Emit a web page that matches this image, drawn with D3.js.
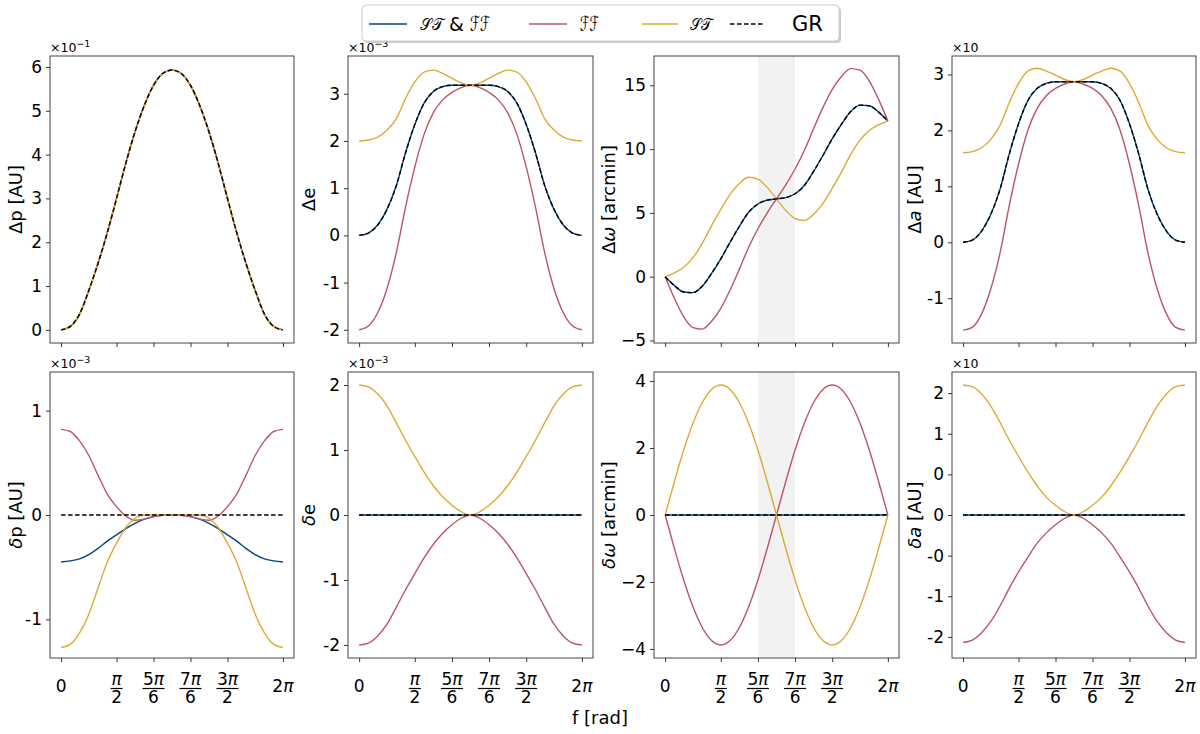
<!DOCTYPE html>
<html>
<head>
<meta charset="utf-8">
<script src="https://cdn.jsdelivr.net/npm/d3@7"></script>
<style>
  body { margin: 0; background: #fff; }
  svg { font-family: "DejaVu Sans", sans-serif; }
</style>
</head>
<body>
<svg id="fig" width="1200" height="734"></svg>
<script>
// true anomaly samples (degrees), read every 15 deg
const DEG = [0, 15, 30, 45, 60, 75, 90, 105, 120, 135, 150, 165, 180,
  195, 210, 225, 240, 255, 270, 285, 300, 315, 330, 345, 360];

// x ticks (degrees) and their labels as fractions of pi
const X_TICKS = [0, 90, 150, 210, 270, 360];
const X_LABELS = [["0", ""], ["π", "2"], ["5π", "6"], ["7π", "6"], ["3π", "2"], ["2π", ""]];

// ---- top row: Delta quantities ----
// Delta p [AU] x1e-1 (all four models overlap)
const dp = [0, 0.08, 0.36, 0.9, 1.52, 2.22, 3.0, 3.8, 4.52, 5.12, 5.58, 5.85, 5.93,
  5.85, 5.58, 5.12, 4.52, 3.8, 3.0, 2.22, 1.52, 0.9, 0.36, 0.08, 0];

// Delta e x1e-3
const deGR = [0, 0.05, 0.22, 0.55, 1.05, 1.75, 2.35, 2.8, 3.05, 3.15, 3.18, 3.18, 3.18,
  3.18, 3.18, 3.15, 3.05, 2.8, 2.35, 1.75, 1.05, 0.55, 0.22, 0.05, 0];
const deST = [2, 2.02, 2.08, 2.23, 2.47, 2.9, 3.25, 3.46, 3.5, 3.43, 3.33, 3.23, 3.18,
  3.23, 3.33, 3.43, 3.5, 3.46, 3.25, 2.9, 2.47, 2.23, 2.08, 2.02, 2];
const deFF = [-2, -1.92, -1.64, -1.13, -0.37, 0.6, 1.45, 2.14, 2.6, 2.87, 3.03, 3.13, 3.18,
  3.13, 3.03, 2.87, 2.6, 2.14, 1.45, 0.6, -0.37, -1.13, -1.64, -1.92, -2];

// Delta omega [arcmin]
const dwGR = [0, -0.7, -1.2, -1.25, -0.75, 0.25, 1.4, 2.7, 3.95, 5.05, 5.7, 6.0, 6.1,
  6.2, 6.5, 7.15, 8.25, 9.5, 10.8, 11.95, 12.95, 13.45, 13.4, 12.9, 12.2];
const dwST = [0, 0.3, 0.74, 1.49, 2.61, 4.0, 5.28, 6.45, 7.31, 7.79, 7.64, 7.0, 6.1,
  5.2, 4.56, 4.41, 4.89, 5.75, 6.92, 8.2, 9.59, 10.71, 11.46, 11.9, 12.2];
const dwFF = [0, -1.7, -3.14, -3.99, -4.11, -3.5, -2.48, -1.05, 0.59, 2.31, 3.76, 5.0, 6.1,
  7.2, 8.44, 9.89, 11.61, 13.25, 14.68, 15.7, 16.31, 16.19, 15.34, 13.9, 12.2];

// Delta a [AU] x10
const daGR = [0, 0.04, 0.2, 0.5, 0.95, 1.58, 2.12, 2.53, 2.75, 2.84, 2.87, 2.87, 2.87,
  2.87, 2.87, 2.84, 2.75, 2.53, 2.12, 1.58, 0.95, 0.5, 0.2, 0.04, 0];
const daST = [1.6, 1.62, 1.69, 1.84, 2.09, 2.5, 2.84, 3.06, 3.11, 3.06, 2.99, 2.91, 2.87,
  2.91, 2.99, 3.06, 3.11, 3.06, 2.84, 2.5, 2.09, 1.84, 1.69, 1.62, 1.6];
const daFF = [-1.57, -1.52, -1.28, -0.83, -0.19, 0.66, 1.4, 2.0, 2.39, 2.62, 2.75, 2.83, 2.87,
  2.83, 2.75, 2.62, 2.39, 2.0, 1.4, 0.66, -0.19, -0.83, -1.28, -1.52, -1.57];

// ---- bottom row: delta = model - GR ----
const zero = [0, 0, 0, 0, 0, 0, 0, 0, 0, 0, 0, 0, 0, 0, 0, 0, 0, 0, 0, 0, 0, 0, 0, 0, 0];

// delta p [AU] x1e-3
const ddpSTFF = [-0.45, -0.44, -0.42, -0.38, -0.32, -0.25, -0.19, -0.13, -0.08, -0.04, -0.015, -0.003, 0,
  -0.003, -0.015, -0.04, -0.08, -0.13, -0.19, -0.25, -0.32, -0.38, -0.42, -0.44, -0.45];
const ddpFF = [0.82, 0.8, 0.71, 0.57, 0.38, 0.2, 0.08, -0.01, -0.05, -0.04, -0.015, -0.003, 0,
  -0.003, -0.015, -0.04, -0.05, -0.01, 0.08, 0.2, 0.38, 0.57, 0.71, 0.8, 0.82];
const ddpST = [-1.27, -1.24, -1.13, -0.95, -0.7, -0.45, -0.27, -0.12, -0.03, 0, 0, 0, 0,
  0, 0, 0, -0.03, -0.12, -0.27, -0.45, -0.7, -0.95, -1.13, -1.24, -1.27];

// delta e x1e-3
const ddeST = [2, 1.97, 1.86, 1.68, 1.42, 1.15, 0.9, 0.66, 0.45, 0.28, 0.15, 0.05, 0,
  0.05, 0.15, 0.28, 0.45, 0.66, 0.9, 1.15, 1.42, 1.68, 1.86, 1.97, 2];
const ddeFF = [-2, -1.97, -1.86, -1.68, -1.42, -1.15, -0.9, -0.66, -0.45, -0.28, -0.15, -0.05, 0,
  -0.05, -0.15, -0.28, -0.45, -0.66, -0.9, -1.15, -1.42, -1.68, -1.86, -1.97, -2];

// delta omega [arcmin]
const ddwST = [0, 1.0, 1.94, 2.74, 3.36, 3.75, 3.88, 3.75, 3.36, 2.74, 1.94, 1.0, 0,
  -1.0, -1.94, -2.74, -3.36, -3.75, -3.88, -3.75, -3.36, -2.74, -1.94, -1.0, 0];
const ddwFF = [0, -1.0, -1.94, -2.74, -3.36, -3.75, -3.88, -3.75, -3.36, -2.74, -1.94, -1.0, 0,
  1.0, 1.94, 2.74, 3.36, 3.75, 3.88, 3.75, 3.36, 2.74, 1.94, 1.0, 0];

// delta a [AU] x10
const ddaST = [1.6, 1.58, 1.49, 1.34, 1.14, 0.92, 0.72, 0.53, 0.36, 0.22, 0.12, 0.04, 0,
  0.04, 0.12, 0.22, 0.36, 0.53, 0.72, 0.92, 1.14, 1.34, 1.49, 1.58, 1.6];
const ddaFF = [-1.57, -1.54, -1.45, -1.31, -1.12, -0.9, -0.7, -0.52, -0.35, -0.22, -0.12, -0.04, 0,
  -0.04, -0.12, -0.22, -0.35, -0.52, -0.7, -0.9, -1.12, -1.31, -1.45, -1.54, -1.57];

const COLORS = { stff: "#004488", ff: "#BB5566", st: "#DDAA33", gr: "#000000" };
const ORDER = ["stff", "ff", "st", "gr"];

// layout
const COLS = [[50, 294], [348, 593], [654, 899], [952, 1196]];
const ROWS = [[56, 343], [372, 658]];
const LABEL_X = [15, 308, 608, 914];

const panels = [
  { row: 0, col: 0, dom: [-0.3, 6.25], tv: [0, 1, 2, 3, 4, 5, 6], tl: ["0", "1", "2", "3", "4", "5", "6"],
    lab: [["Δp [AU]", 0]], off: "−1", s: { stff: dp, ff: dp, st: dp, gr: dp } },
  { row: 0, col: 1, dom: [-2.28, 3.8], tv: [-2, -1, 0, 1, 2, 3], tl: ["-2", "-1", "0", "1", "2", "3"],
    lab: [["Δe", 0]], off: "−3", s: { stff: deGR, ff: deFF, st: deST, gr: deGR } },
  { row: 0, col: 2, dom: [-5.2, 17.3], tv: [-5, 0, 5, 10, 15], tl: ["−5", "0", "5", "10", "15"],
    lab: [["Δ", 0], ["ω", 1], [" [arcmin]", 0]], off: null, band: true,
    s: { stff: dwGR, ff: dwFF, st: dwST, gr: dwGR } },
  { row: 0, col: 3, dom: [-1.8, 3.33], tv: [-1, 0, 1, 2, 3], tl: ["-1", "0", "1", "2", "3"],
    lab: [["Δ", 0], ["a", 1], [" [AU]", 0]], off: "", s: { stff: daGR, ff: daFF, st: daST, gr: daGR } },
  { row: 1, col: 0, dom: [-1.37, 1.37], tv: [-1, 0, 1], tl: ["-1", "0", "1"],
    lab: [["δ", 1], ["p [AU]", 0]], off: "−3", s: { stff: ddpSTFF, ff: ddpFF, st: ddpST, gr: zero } },
  { row: 1, col: 1, dom: [-2.2, 2.2], tv: [-2, -1, 0, 1, 2], tl: ["-2", "-1", "0", "1", "2"],
    lab: [["δ", 1], ["e", 0]], off: "−3", s: { stff: zero, ff: ddeFF, st: ddeST, gr: zero } },
  { row: 1, col: 2, dom: [-4.27, 4.27], tv: [-4, -2, 0, 2, 4], tl: ["−4", "−2", "0", "2", "4"],
    lab: [["δω", 1], [" [arcmin]", 0]], off: null, band: true,
    s: { stff: zero, ff: ddwFF, st: ddwST, gr: zero } },
  { row: 1, col: 3, dom: [-1.76, 1.76], tv: [-1.5, -1, -0.5, 0, 0.5, 1, 1.5],
    tl: ["-2", "-1", "-0", "0", "0", "1", "2"],
    lab: [["δa", 1], [" [AU]", 0]], off: "", s: { stff: zero, ff: ddaFF, st: ddaST, gr: zero } }
];

const svg = d3.select("#fig");

panels.forEach(drawPanel);
drawLegend();

svg.append("text")
  .attr("x", 600).attr("y", 724)
  .attr("text-anchor", "middle")
  .attr("font-size", 18)
  .text("f [rad]");

function drawPanel(p) {
  const [x0, x1] = COLS[p.col];
  const [y0, y1] = ROWS[p.row];
  const x = d3.scaleLinear().domain([-18, 378]).range([x0, x1]);
  const y = d3.scaleLinear().domain(p.dom).range([y1, y0]);
  const g = svg.append("g");

  if (p.band) {
    g.append("rect")
      .attr("x", x(150)).attr("y", y0)
      .attr("width", x(210) - x(150)).attr("height", y1 - y0)
      .attr("fill", "#f2f2f2");
  }

  const line = d3.line()
    .x((d, i) => x(DEG[i]))
    .y(d => y(d))
    .curve(d3.curveMonotoneX);

  ORDER.forEach(k => {
    g.append("path")
      .datum(p.s[k])
      .attr("d", line)
      .attr("fill", "none")
      .attr("stroke", COLORS[k])
      .attr("stroke-width", 1.4)
      .attr("stroke-dasharray", k === "gr" ? "4.5,2.5" : null);
  });

  // frame
  g.append("rect")
    .attr("x", x0).attr("y", y0)
    .attr("width", x1 - x0).attr("height", y1 - y0)
    .attr("fill", "none").attr("stroke", "#444").attr("stroke-width", 1);

  // y axis
  const yAxis = d3.axisLeft(y)
    .tickValues(p.tv)
    .tickFormat((d, i) => p.tl[i])
    .tickSize(4).tickPadding(4);
  const ya = g.append("g").attr("transform", `translate(${x0},0)`).call(yAxis);
  ya.select(".domain").remove();
  ya.selectAll("line").attr("stroke", "#333");
  ya.selectAll("text").attr("font-size", 17).attr("font-family", "DejaVu Sans").attr("fill", "#000");

  // x axis
  const xAxis = d3.axisBottom(x).tickValues(X_TICKS).tickFormat("").tickSize(4);
  const xa = g.append("g").attr("transform", `translate(0,${y1})`).call(xAxis);
  xa.select(".domain").remove();
  xa.selectAll("line").attr("stroke", "#333");

  if (p.row === 1) {
    X_TICKS.forEach((t, i) => {
      const [num, den] = X_LABELS[i];
      const cx = x(t);
      if (den === "") {
        g.append("text").attr("x", cx).attr("y", y1 + 34)
          .attr("text-anchor", "middle").attr("font-size", 17)
          .call(mathText, num);
      } else {
        g.append("text").attr("x", cx).attr("y", y1 + 27)
          .attr("text-anchor", "middle").attr("font-size", 17)
          .call(mathText, num);
        g.append("text").attr("x", cx).attr("y", y1 + 45)
          .attr("text-anchor", "middle").attr("font-size", 17)
          .text(den);
        const w = num.length > 1 ? 22 : 12;
        g.append("line")
          .attr("x1", cx - w / 2).attr("x2", cx + w / 2)
          .attr("y1", y1 + 30.5).attr("y2", y1 + 30.5)
          .attr("stroke", "#000").attr("stroke-width", 1.2);
      }
    });
  }

  // y label
  const lt = g.append("text")
    .attr("transform", `translate(${LABEL_X[p.col]},${(y0 + y1) / 2}) rotate(-90)`)
    .attr("text-anchor", "middle")
    .attr("dominant-baseline", "central")
    .attr("font-size", 18);
  p.lab.forEach(([t, it]) => {
    lt.append("tspan").attr("font-style", it ? "italic" : null).text(t);
  });

  // offset text (x10^n)
  if (p.off !== null) {
    const ot = g.append("text").attr("x", x0).attr("y", y0 - 4).attr("font-size", 12.5);
    ot.append("tspan").text("×10");
    if (p.off !== "") {
      ot.append("tspan").attr("dy", -5).attr("font-size", 9.5).text(p.off);
    }
  }
}

// numerator text with italic pi
function mathText(sel, str) {
  const parts = str.split("π");
  sel.append("tspan").text(parts[0]);
  if (parts.length > 1) sel.append("tspan").attr("font-style", "italic").text("π");
}

function drawLegend() {
  const lg = svg.append("g");
  lg.append("rect")
    .attr("x", 364).attr("y", 7).attr("width", 477).attr("height", 36)
    .attr("rx", 4).attr("fill", "#999").attr("opacity", 0.5);
  lg.append("rect")
    .attr("x", 362).attr("y", 5).attr("width", 477).attr("height", 36)
    .attr("rx", 4).attr("fill", "#fff").attr("stroke", "#ccc");

  // label pieces: [text, font size, textLength]
  const items = [
    { k: "stff", x1: 369, x2: 407, tx: 420, parts: [["𝒮𝒯", 16, 23], [" & ", 19, 0], ["ℱℱ", 21, 20]] },
    { k: "ff", x1: 529, x2: 567, tx: 580, parts: [["ℱℱ", 21, 19]] },
    { k: "st", x1: 642, x2: 678, tx: 690, parts: [["𝒮𝒯", 16, 22]] },
    { k: "gr", x1: 730, x2: 765, tx: 792, parts: [["GR", 21, 0]] }
  ];
  items.forEach(it => {
    lg.append("line")
      .attr("x1", it.x1).attr("x2", it.x2).attr("y1", 24).attr("y2", 24)
      .attr("stroke", COLORS[it.k]).attr("stroke-width", 1.4)
      .attr("stroke-dasharray", it.k === "gr" ? "4.5,2.5" : null);
    const t = lg.append("text")
      .attr("x", it.tx).attr("y", 24)
      .attr("dominant-baseline", "central")
      .attr("xml:space", "preserve");
    it.parts.forEach(([s, fs, w]) => {
      const sp = t.append("tspan").attr("font-size", fs).text(s);
      if (w) sp.attr("textLength", w).attr("lengthAdjust", "spacingAndGlyphs");
    });
  });
}
</script>
</body>
</html>
